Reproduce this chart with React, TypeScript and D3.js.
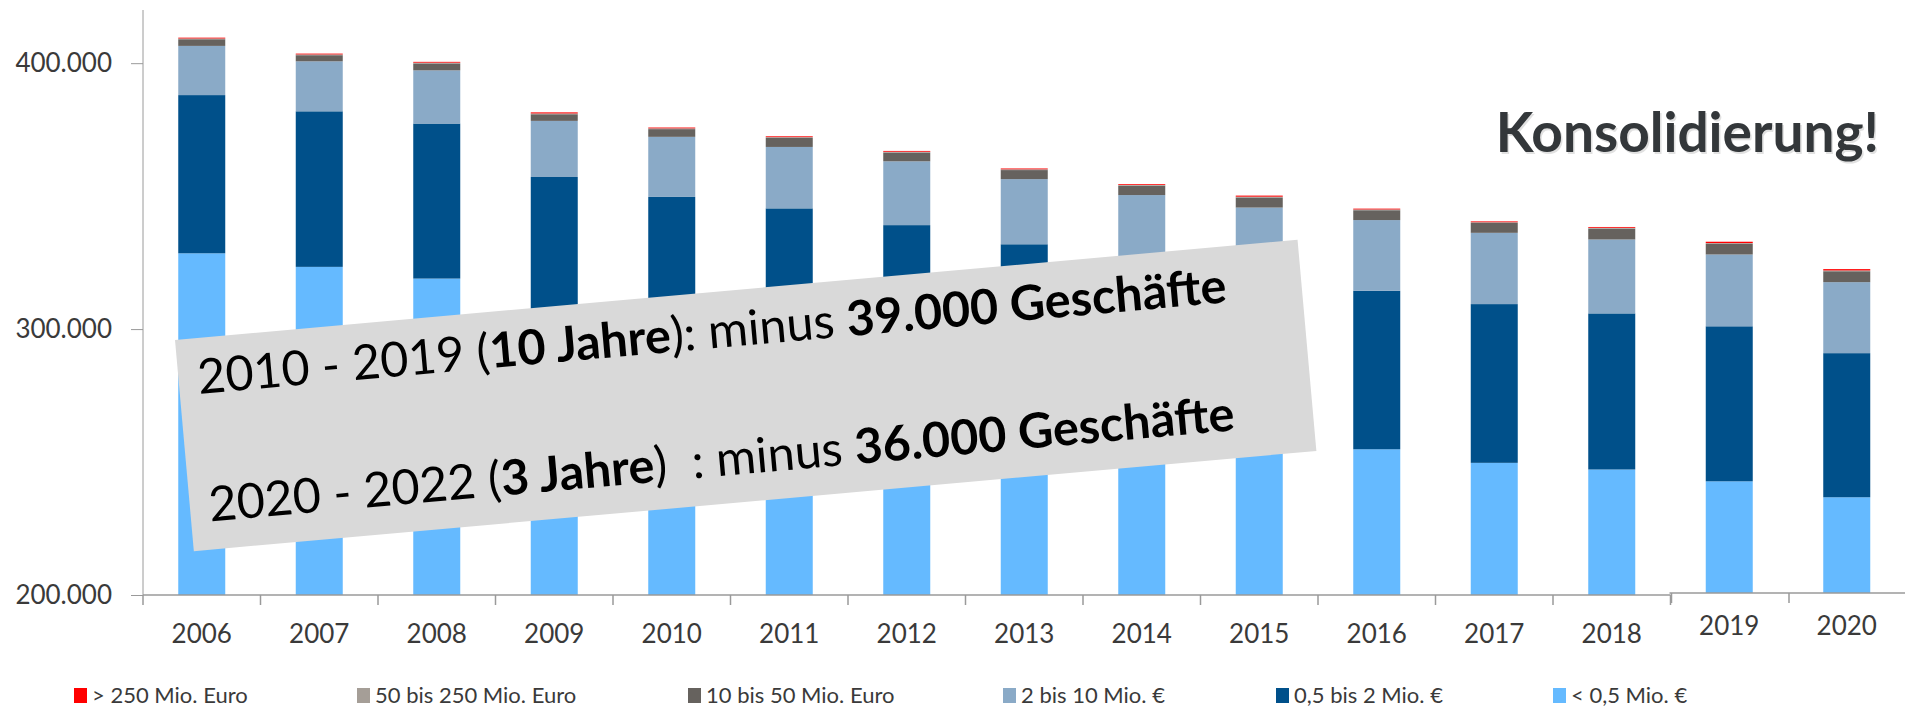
import React, { useEffect, useRef } from 'react'
import * as d3 from 'd3'

// Geschäfte nach Umsatzgrößenklassen, 2006 - 2020
const years = ['2006', '2007', '2008', '2009', '2010', '2011', '2012', '2013', '2014', '2015', '2016', '2017', '2018', '2019', '2020']
const pastedYears = ['2019', '2020']

const under05 = [328500, 323400, 319000, 298500, 291000, 286500, 280500, 273500, 267500, 261500, 254800, 249700, 247200, 242000, 236000]
const from05to2 = [59500, 58500, 58300, 58700, 58700, 58900, 58600, 58400, 58500, 59000, 59600, 59700, 58700, 58300, 54200]
const from2to10 = [18500, 18800, 20000, 21100, 22600, 23100, 24000, 24500, 24400, 25200, 26600, 26800, 27800, 27000, 26700]
const from10to50 = [2500, 2300, 2600, 2500, 2900, 3400, 3300, 3400, 3500, 3800, 3700, 3700, 4100, 4000, 4100]
const from50to250 = [300, 300, 300, 300, 300, 300, 300, 300, 300, 300, 300, 300, 300, 300, 300]
const over250 = [300, 300, 300, 400, 300, 300, 300, 300, 300, 400, 300, 300, 300, 500, 500]

const seriesKeys = ['under05', 'from05to2', 'from2to10', 'from10to50', 'from50to250', 'over250']
const seriesNames = ['< 0,5 Mio. €', '0,5 bis 2 Mio. €', '2 bis 10 Mio. €', '10 bis 50 Mio. Euro', '50 bis 250 Mio. Euro', '> 250 Mio. Euro']
const seriesColors = ['#65baff', '#00508a', '#8aaac7', '#66625e', '#a59e97', '#ff0000']

const yTicks = [200000, 300000, 400000]
const yDomain = [200000, 420000]

const note1 = [
  { t: '2010 - 2019 (', b: false },
  { t: '10 Jahre', b: true },
  { t: '): minus ', b: false },
  { t: '39.000 Geschäfte', b: true }
]
const note2 = [
  { t: '2020 - 2022 (', b: false },
  { t: '3 Jahre', b: true },
  { t: ')  : minus ', b: false },
  { t: '36.000 Geschäfte', b: true }
]
const headline = 'Konsolidierung!'

// legend order left -> right, and where each entry sits
const legendOrder = [5, 4, 3, 2, 1, 0]
const legendX = [74, 357, 688, 1003, 1276, 1553]

const W = 1905
const H = 707
const FONT = 'Lato, "Open Sans", sans-serif'

function App() {
  const ref = useRef(null)

  useEffect(() => {
    const svg = d3.select(ref.current)
    svg.selectAll('*').remove()

    const x0 = 143
    const step = 117.5
    const x = d3
      .scaleBand()
      .domain(years)
      .range([x0, x0 + step * years.length])
      .paddingInner(0.6)
      .paddingOuter(0.3)

    const y = d3.scaleLinear().domain(yDomain).range([595, 10]).clamp(true)

    const table = years.map((yr, i) => ({
      year: yr,
      under05: under05[i],
      from05to2: from05to2[i],
      from2to10: from2to10[i],
      from10to50: from10to50[i],
      from50to250: from50to250[i],
      over250: over250[i]
    }))
    const stacked = d3.stack().keys(seriesKeys)(table)

    // the last two years were pasted in a bit higher
    const shift = (yr) => (pastedYears.includes(yr) ? -2 : 0)

    const bars = svg.append('g')
    stacked.forEach((layer, li) => {
      bars
        .selectAll('.s' + li)
        .data(layer)
        .enter()
        .append('rect')
        .attr('x', (d) => x(d.data.year))
        .attr('width', x.bandwidth())
        .attr('y', (d) => y(d[1]) + shift(d.data.year))
        .attr('height', (d) => Math.max(0, y(d[0]) - y(d[1])))
        .attr('fill', seriesColors[li])
    })

    // y axis
    const yAxis = svg
      .append('g')
      .attr('transform', 'translate(' + x0 + ',0)')
      .call(
        d3
          .axisLeft(y)
          .tickValues(yTicks)
          .tickSize(12)
          .tickPadding(19)
          .tickFormat((v) => d3.format(',')(v).replace(/,/g, '.'))
      )
    yAxis.select('.domain').attr('d', 'M0,10V595').attr('stroke', '#9a9a9a')
    yAxis.selectAll('line').attr('stroke', '#9a9a9a')
    yAxis
      .selectAll('text')
      .attr('font-family', FONT)
      .attr('font-size', 26)
      .attr('fill', '#3a3a3a')

    // x axis, main part 2006-2018
    const mainYears = years.filter((yr) => !pastedYears.includes(yr))
    const gray = '#9a9a9a'
    const xEnd = x0 + step * mainYears.length
    svg
      .append('line')
      .attr('x1', x0)
      .attr('x2', xEnd)
      .attr('y1', 595)
      .attr('y2', 595)
      .attr('stroke', gray)
      .attr('stroke-width', 1.5)
    svg
      .selectAll('.xt')
      .data(d3.range(mainYears.length + 1))
      .enter()
      .append('line')
      .attr('x1', (i) => x0 + i * step)
      .attr('x2', (i) => x0 + i * step)
      .attr('y1', 595)
      .attr('y2', 605)
      .attr('stroke', gray)
      .attr('stroke-width', 1.5)

    // x axis, pasted part 2019-2020
    svg
      .append('line')
      .attr('x1', xEnd - 1)
      .attr('x2', W)
      .attr('y1', 593)
      .attr('y2', 593)
      .attr('stroke', gray)
      .attr('stroke-width', 1.5)
    svg
      .selectAll('.xt2')
      .data([0, 1])
      .enter()
      .append('line')
      .attr('x1', (i) => xEnd + 1 + i * step)
      .attr('x2', (i) => xEnd + 1 + i * step)
      .attr('y1', 593)
      .attr('y2', 603)
      .attr('stroke', gray)
      .attr('stroke-width', 1.5)

    svg
      .selectAll('.xl')
      .data(years)
      .enter()
      .append('text')
      .attr('x', (d) => x(d) + x.bandwidth() / 2)
      .attr('y', (d) => (pastedYears.includes(d) ? 635 : 643))
      .attr('text-anchor', 'middle')
      .attr('font-family', FONT)
      .attr('font-size', 26)
      .attr('fill', '#3a3a3a')
      .text((d) => d)

    // headline with a faint shadow
    svg
      .append('text')
      .attr('x', 1880.5)
      .attr('y', 153.5)
      .attr('text-anchor', 'end')
      .attr('font-family', FONT)
      .attr('font-weight', 'bold')
      .attr('font-size', 55)
      .attr('fill', '#aaa')
      .attr('opacity', 0.35)
      .text(headline)
    svg
      .append('text')
      .attr('x', 1879)
      .attr('y', 152)
      .attr('text-anchor', 'end')
      .attr('font-family', FONT)
      .attr('font-weight', 'bold')
      .attr('font-size', 55)
      .attr('fill', '#33373a')
      .text(headline)

    // tilted note box
    const note = svg.append('g').attr('transform', 'translate(175,340) rotate(-5.1)')
    note.append('rect').attr('width', 1127).attr('height', 212).attr('fill', '#d9d9d9')
    const lines = [
      { parts: note1, y: 56 },
      { parts: note2, y: 184 }
    ]
    lines.forEach((ln) => {
      const t = note
        .append('text')
        .attr('x', 19)
        .attr('y', ln.y)
        .attr('font-family', FONT)
        .attr('font-size', 48.5)
        .attr('fill', '#000')
        .style('white-space', 'pre')
      ln.parts.forEach((p) => {
        t.append('tspan')
          .attr('font-weight', p.b ? 'bold' : 'normal')
          .text(p.t)
      })
    })

    // legend
    const legend = svg.append('g')
    legendOrder.forEach((si, k) => {
      legend
        .append('rect')
        .attr('x', legendX[k])
        .attr('y', 688)
        .attr('width', 13)
        .attr('height', 15)
        .attr('fill', seriesColors[si])
      legend
        .append('text')
        .attr('x', legendX[k] + 18)
        .attr('y', 703)
        .attr('font-family', FONT)
        .attr('font-size', 22)
        .attr('fill', '#3a3a3a')
        .text(seriesNames[si])
    })
  }, [])

  return (
    <svg
      ref={ref}
      width={W}
      height={H}
      style={{ position: 'absolute', left: 0, top: 0, background: '#fff' }}
    />
  )
}

export default App
